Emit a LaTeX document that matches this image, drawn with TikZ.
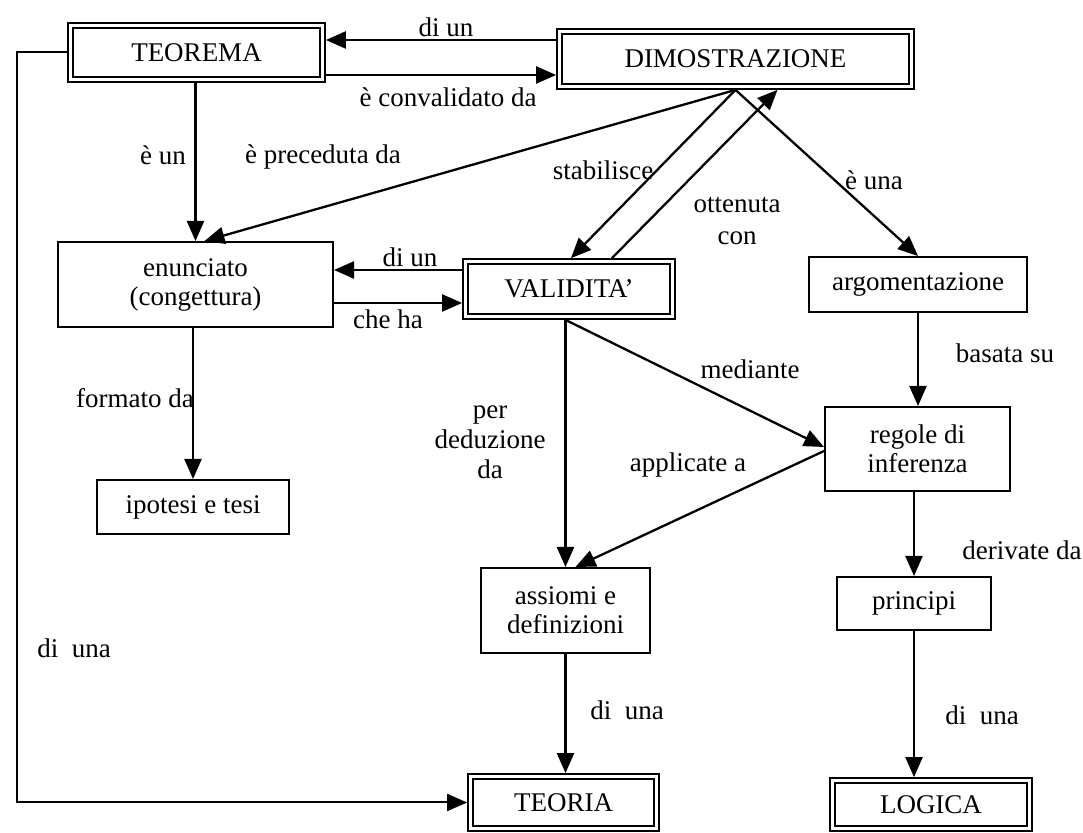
\documentclass[tikz,border=0pt]{standalone}
\usepackage{fontspec}
\setmainfont{Liberation Serif}
\usetikzlibrary{arrows.meta,calc}
\begin{document}
\begin{tikzpicture}[x=0.5pt,y=-0.5pt,
  font=\fontsize{13.5}{14.5}\selectfont,
  box/.style={draw, line width=1pt, outer sep=0.5pt, inner sep=0pt, align=center},
  dbox/.style={draw, line width=0.9pt, double, double distance=1.6pt, outer sep=1.7pt, inner sep=0pt, align=center},
  lbl/.style={inner sep=1pt, align=center},
  arr/.style={line width=1.15pt, -{Triangle[length=10pt,width=8.5pt]}},
  link/.style={line width=1pt}]
\useasboundingbox (0,0) rectangle (1083,833);

% concepts
\node[dbox, minimum width=126pt, minimum height=27pt] (teo) at (196.5,52.5) {TEOREMA};
\node[dbox, minimum width=176pt, minimum height=27.5pt] (dim) at (735.5,59) {DIMOSTRAZIONE};
\node[box, minimum width=137.5pt, minimum height=42.5pt] (enu) at (195.5,284.5) {enunciato\\(congettura)};
\node[dbox, minimum width=103.5pt, minimum height=27.5pt] (val) at (569,289) {VALIDITA'};
\node[box, minimum width=109pt, minimum height=27.5pt] (arg) at (918,284.5) {argomentazione};
\node[box, minimum width=96pt, minimum height=27pt] (ipo) at (193,507) {ipotesi e tesi};
\node[box, minimum width=92.5pt, minimum height=42pt] (reg) at (917.5,449) {regole di\\inferenza};
\node[box, minimum width=84.5pt, minimum height=42.5pt] (ass) at (565.5,610.5) {assiomi e\\definizioni};
\node[box, minimum width=77pt, minimum height=26.5pt] (pri) at (914,603.5) {principi};
\node[dbox, minimum width=93pt, minimum height=26pt] (teoria) at (563.5,802.5) {TEORIA};
\node[dbox, minimum width=98.5pt, minimum height=24pt] (log) at (931,804.5) {LOGICA};

% links
\draw[arr] ($(dim.west)+(0,-19)$) -- ($(teo.east)+(0,-12.5)$);
\draw[arr] ($(teo.east)+(0,22.5)$) -- ($(dim.west)+(0,16)$);
\draw[arr] (teo.south -| enu.north) -- (enu.north);
\draw[arr] (dim.south) -- ($(enu.north)+(9,0)$);
\draw[arr] (dim.south) -- ($(val.north)+(2,0)$);
\draw[arr] ($(val.north)+(43,0)$) -- ($(dim.south)+(42,0)$);
\draw[arr] (dim.south) -- (arg.north);
\draw[arr] ($(val.west)+(0,-19)$) -- ($(enu.east)+(0,-14.5)$);
\draw[arr] ($(enu.east)+(0,18.5)$) -- ($(val.west)+(0,14)$);
\draw[arr] (ipo.north |- enu.south) -- (ipo.north);
\draw[arr] (arg.south) -- (arg.south |- reg.north);
\draw[arr] (ass.north |- val.south) -- (ass.north);
\draw[arr] (ass.north |- val.south) -- ($(reg.west)+(0,-2)$);
\draw[arr] ($(reg.west)+(0,2)$) -- ($(ass.north)+(10,0)$);
\draw[arr] (pri.north |- reg.south) -- (pri.north);
\draw[arr] (pri.south) -- (pri.south |- log.north);
\draw[arr] (ass.south) -- (ass.south |- teoria.north);
\draw[arr, line width=1pt] (teo.west) -- ++(-50,0) |- (teoria.west);

% link labels
\node[lbl] (l1) at (446,27) {di un};
\node[lbl] (l2) at (448,97) {è convalidato da};
\node[lbl] (l3) at (163,155) {è un};
\node[lbl] (l4) at (323,157) {è preceduta da};
\node[lbl] (l5) at (603,170) {stabilisce};
\node[lbl, font=\fontsize{13.5}{16}\selectfont] (l6) at (737,221) {ottenuta\\con};
\node[lbl] (l7) at (874,180) {è una};
\node[lbl] (l8) at (410,257) {di un};
\node[lbl] (l9) at (388,319) {che ha};
\node[lbl] (l10) at (135,398) {formato da};
\node[lbl, font=\fontsize{13.5}{15}\selectfont] (l11) at (490,442) {per\\deduzione\\da};
\node[lbl] (l12) at (750,369) {mediante};
\node[lbl] (l13) at (688,465) {applicate a};
\node[lbl] (l14) at (1005,353) {basata su};
\node[lbl] (l15) at (1022,550) {derivate da};
\node[lbl] (l16) at (74,648) {di\ \ una};
\node[lbl] (l17) at (627,710) {di\ \ una};
\node[lbl] (l18) at (982,715) {di\ \ una};
\end{tikzpicture}
\end{document}
